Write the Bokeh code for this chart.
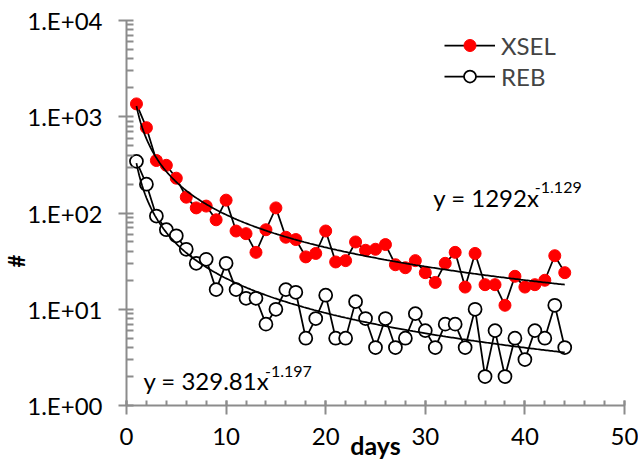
import numpy as np
from bokeh.plotting import figure
from bokeh.models import (Range1d, FixedTicker, CustomJSTickFormatter, Label,
                          Legend, LegendItem)
from bokeh.embed import file_html
from bokeh.resources import INLINE

# ---------------- data ----------------
days = list(range(1, 45))
xsel = [1360, 770, 351, 313, 230, 146, 113, 118, 85, 136,
        65, 61, 39, 67, 113, 56, 53, 35, 38, 65,
        31, 32, 50, 41, 42, 47, 29, 27, 32, 24,
        19, 30, 39, 17, 38, 18, 18, 11, 22, 17,
        18, 20, 36, 24]
reb = [344, 199, 93, 67, 58, 42, 30, 33, 16, 30,
       16, 13, 13, 7, 10, 16, 15, 5, 8, 14,
       5, 5, 12, 8, 4, 8, 4, 5, 9, 6,
       4, 7, 7, 4, 10, 2, 6, 2, 5, 3,
       6, 5, 11, 4]
xsel_fit = (1292.0, -1.129)
reb_fit = (329.81, -1.197)
series_names = ["XSEL", "REB"]
y_ticks = [1, 10, 100, 1000, 10000]
x_ticks = [0, 10, 20, 30, 40, 50]
x_title = "days"
y_title = "#"

# ---------------- layout helpers ----------------
W, H = 638, 462
FL, FR, FT, FB = 124, 624, 20, 406
FONT = "Lato"
AX = "#8c8c8c"


def dx(px):
    return (px - FL) / (FR - FL) * 50.0


def dy(py):
    return 10 ** ((FB - py) / (FB - FT) * 4.0)


p = figure(width=W, height=H, y_axis_type="log",
           x_range=Range1d(0, 50), y_range=Range1d(1, 10000),
           output_backend="svg", toolbar_location=None,
           min_border_left=FL, min_border_right=W - FR,
           min_border_top=FT, min_border_bottom=H - FB)
p.outline_line_color = None
p.xgrid.visible = False
p.ygrid.visible = False
p.background_fill_color = "white"
p.border_fill_color = "white"

# axes
minor_y = [m * 10 ** k for k in range(0, 4) for m in range(2, 10)]
p.yaxis.ticker = FixedTicker(ticks=y_ticks, minor_ticks=minor_y)
p.yaxis.formatter = CustomJSTickFormatter(code="""
const e = Math.round(Math.log10(tick));
return "1.E+" + (e < 10 ? "0" : "") + e;
""")
p.xaxis.ticker = FixedTicker(ticks=x_ticks, minor_ticks=list(range(0, 51, 2)))

for ax in (p.xaxis[0], p.yaxis[0]):
    ax.axis_line_color = AX
    ax.axis_line_width = 2
    ax.major_tick_line_color = AX
    ax.major_tick_line_width = 2
    ax.minor_tick_line_color = AX
    ax.minor_tick_line_width = 2
    ax.major_label_text_font = FONT
    ax.major_label_text_font_size = "24px"
    ax.major_label_text_color = "black"
    ax.axis_label_text_font = FONT
    ax.axis_label_text_font_style = "bold"
    ax.axis_label_text_color = "black"

p.yaxis.major_tick_out = 8
p.yaxis.major_tick_in = 7
p.yaxis.minor_tick_in = 7
p.yaxis.minor_tick_out = 0
p.yaxis.major_label_standoff = 16
# "#" title sits below the middle of the axis: pad with no-break spaces
p.yaxis.axis_label = y_title + "\u00a0" * 18
p.yaxis.axis_label_text_font_size = "22px"
p.yaxis.axis_label_standoff = -6

p.xaxis.major_tick_out = 9
p.xaxis.major_tick_in = 5
p.xaxis.minor_tick_in = 5
p.xaxis.minor_tick_out = 0
p.xaxis.major_label_standoff = 13
p.xaxis.axis_label = x_title
p.xaxis.axis_label_text_font_size = "25px"
p.xaxis.axis_label_standoff = -18

# series
l1 = p.line(days, xsel, line_color="black", line_width=1.75)
s1 = p.scatter(days, xsel, size=12, fill_color="#ff0000", line_color="#ff0000")
l2 = p.line(days, reb, line_color="black", line_width=1.75)
s2 = p.scatter(days, reb, size=13, fill_color="white", line_color="black",
               line_width=1.75)

# power trendlines
xt = np.linspace(days[0], days[-1], 300)
p.line(xt, xsel_fit[0] * xt ** xsel_fit[1], line_color="black", line_width=1.75)
p.line(xt, reb_fit[0] * xt ** reb_fit[1], line_color="black", line_width=1.75)

# legend
legend = Legend(items=[LegendItem(label=series_names[0], renderers=[l1, s1]),
                       LegendItem(label=series_names[1], renderers=[l2, s2])],
                location=(442 - FL, FB - 92),
                glyph_width=51, glyph_height=30, label_height=30,
                spacing=1, padding=0, margin=0, label_standoff=6,
                label_text_font=FONT, label_text_font_size="24px",
                border_line_color=None, background_fill_alpha=0)
p.add_layout(legend)


def add_text(px, py, text, size):
    p.add_layout(Label(x=dx(px), y=dy(py), text=text, text_font=FONT,
                       text_font_size=size, text_color="black",
                       text_align="left", text_baseline="alphabetic"))


# trendline equations
add_text(432, 197, "y = %gx" % xsel_fit[0], "24px")
add_text(534, 187, "%g" % xsel_fit[1], "16px")
add_text(141, 381, "y = %gx" % reb_fit[0], "24px")
add_text(263, 372, "%g" % reb_fit[1], "16px")

open("out.html", "w").write(file_html(p, INLINE))
